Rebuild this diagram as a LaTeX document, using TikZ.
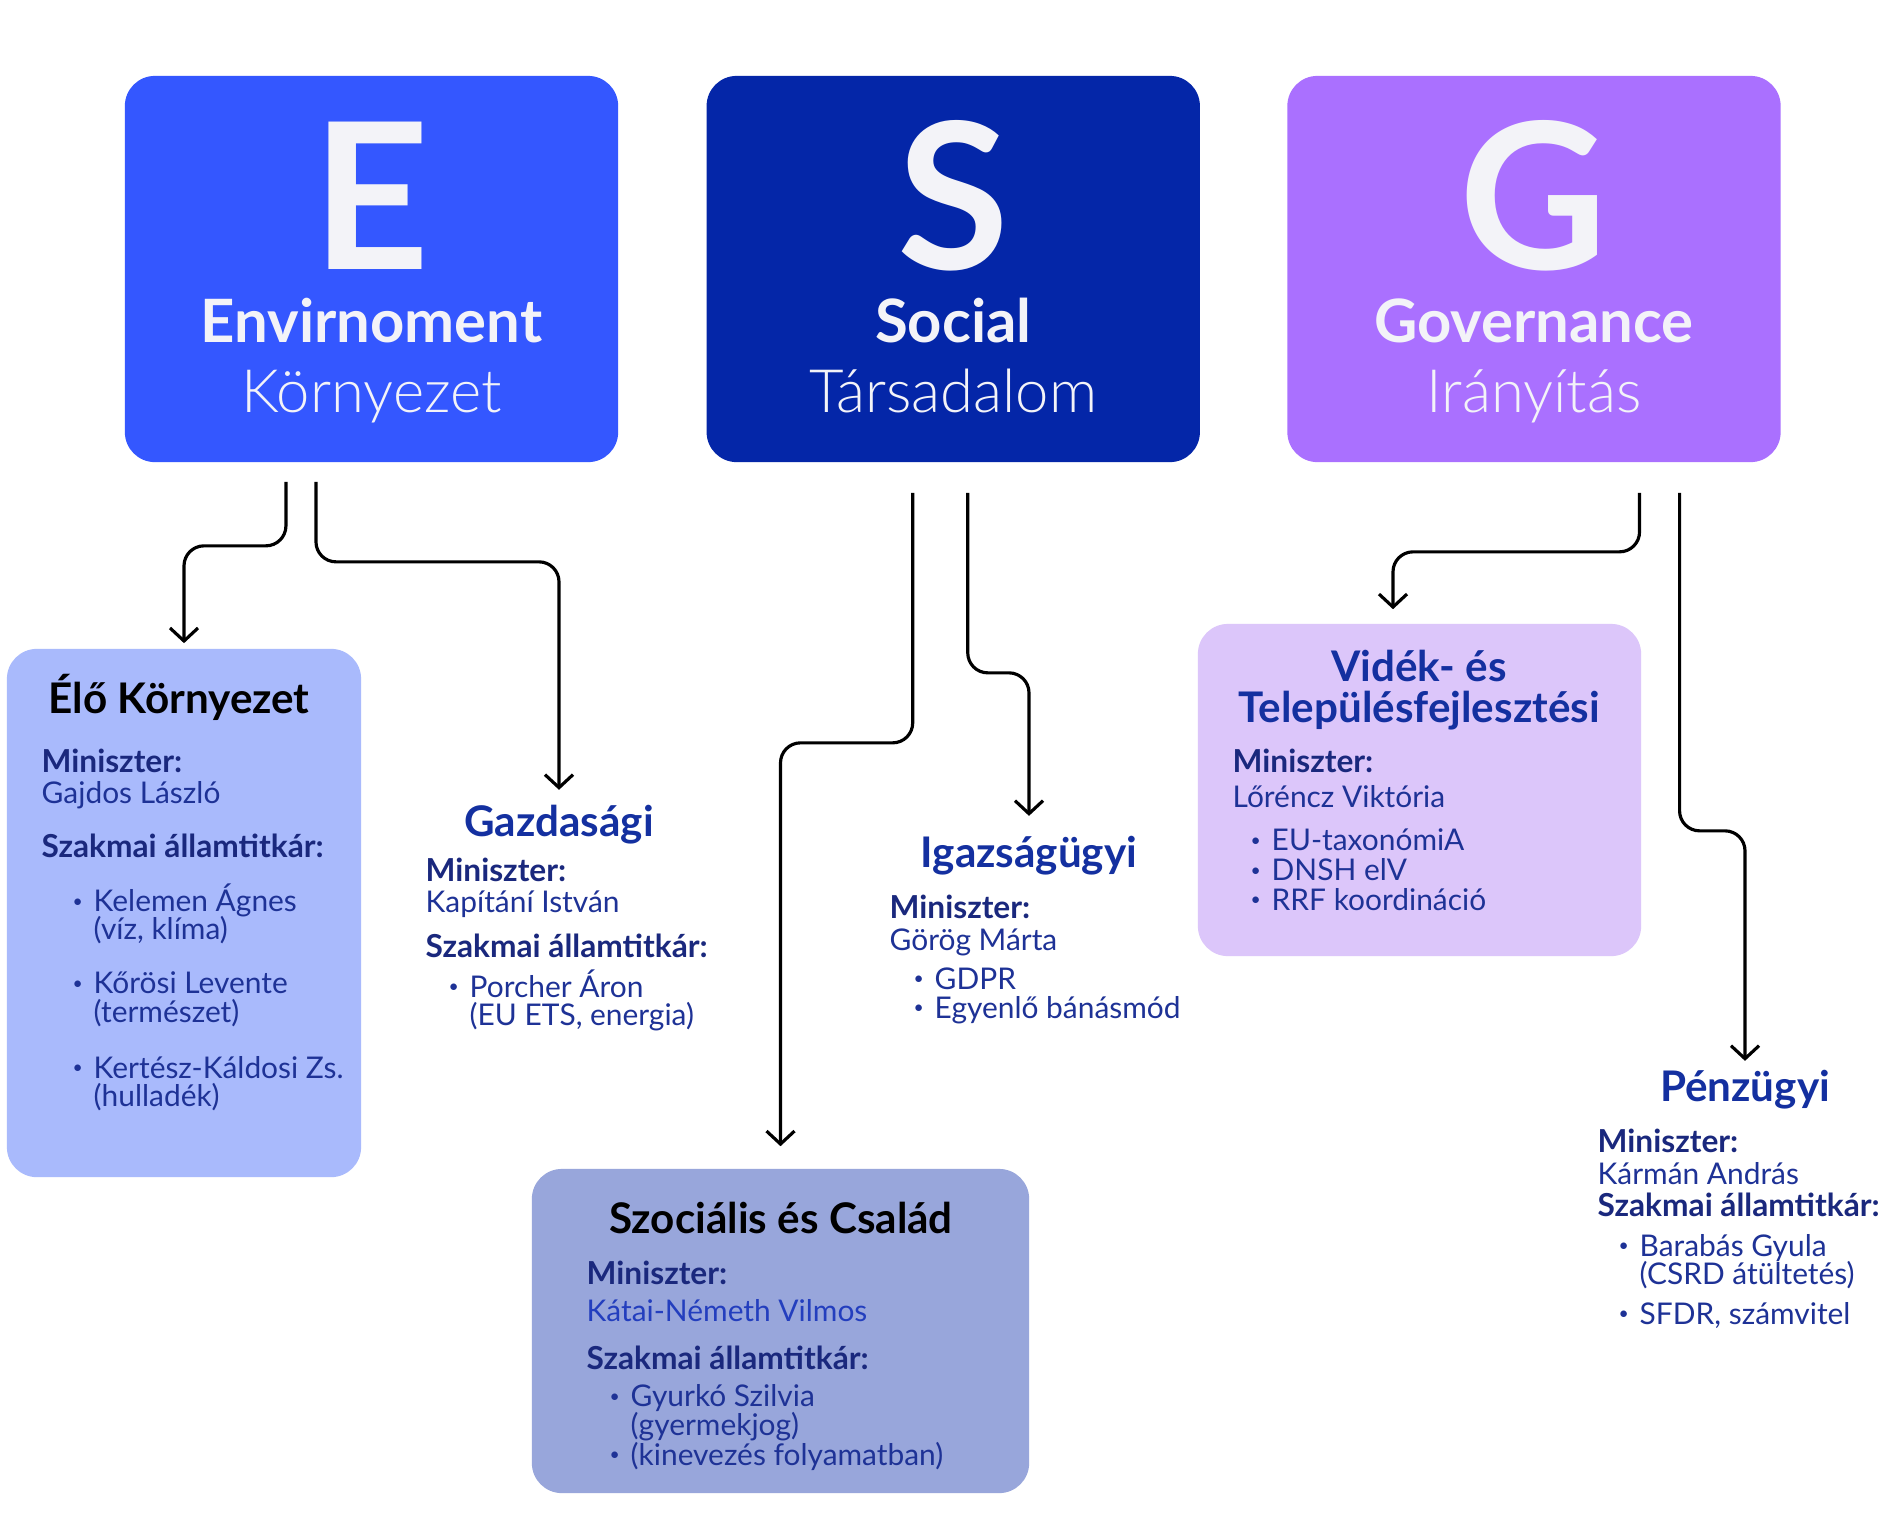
\documentclass[tikz,border=0pt]{standalone}
\usepackage{fontspec}
\setmainfont{Lato}
\newfontfamily\lightfont{Lato Light}
\usetikzlibrary{arrows.meta,positioning}
\definecolor{eblue}{RGB}{52,87,255}
\definecolor{snavy}{RGB}{4,38,168}
\definecolor{gviolet}{RGB}{170,112,255}
\definecolor{elofill}{RGB}{169,186,252}
\definecolor{socfill}{RGB}{152,166,219}
\definecolor{vidfill}{RGB}{220,198,250}
\definecolor{ink}{RGB}{26,40,125}
\definecolor{body}{RGB}{30,50,150}
\definecolor{bodylt}{RGB}{35,62,190}
\definecolor{head}{RGB}{20,48,160}
\definecolor{snow}{RGB}{243,243,248}
\newcommand\tightlines{\lineskiplimit=-20pt\relax}
\tikzset{
  pillar/.style={rounded corners=3mm,minimum width=4.93cm,minimum height=3.86cm,inner sep=0pt},
  big/.style={text=snow,font=\fontsize{58}{58}\selectfont\bfseries,inner sep=0pt,anchor=base,text depth=0pt},
  eng/.style={text=snow,font=\fontsize{17}{17}\selectfont\bfseries,inner sep=0pt,anchor=base},
  hun/.style={text=snow,font=\fontsize{17}{17}\selectfont\lightfont,inner sep=0pt,anchor=base},
  card/.style={rounded corners=3mm,inner sep=0pt},
  ttl/.style={font=\fontsize{12}{11.7}\selectfont\bfseries,inner sep=0pt,align=center},
  info/.style={font=\fontsize{8.5}{8}\selectfont\tightlines,text=body,inner sep=0pt,align=left,anchor=north west},
  arr/.style={-{Straight Barb[length=1.3mm,width=2.8mm]},line width=0.9pt,rounded corners=2mm}
}
\newcommand\minlbl[1]{{\fontsize{9}{8}\selectfont\bfseries\color{ink}#1}}
\newcommand\bulx[1][0.26cm]{\hspace*{#1}\makebox[0.18cm][l]{\hspace*{-0.03cm}\raisebox{1.3pt}{\fontsize{5}{5}\selectfont\textbullet}}}
\newcommand\contx[1][0.26cm]{\hspace*{#1}\hspace*{0.18cm}}

\begin{document}
\begin{tikzpicture}[x=0.01cm,y=-0.01cm]
  \fill[white] (0,0) rectangle (1900,1520);
  \useasboundingbox (0,0) rectangle (1900,1520);

  % the three pillars
  \node[pillar,fill=eblue] (E) at (371.5,269) {};
  \node[pillar,fill=snavy,right=0.87cm of E] (S) {};
  \node[pillar,fill=gviolet,right=0.86cm of S] (G) {};
  \node[big] (eL) at (E.center) {E};
  \node[eng] (eEn) at ([yshift=-0.73cm]E.center) {Envirnoment};
  \node[hun] (eHu) at ([yshift=-1.43cm]E.center) {Környezet};
  \node[big] (sL) at (S.center) {S};
  \node[eng] (sEn) at ([yshift=-0.73cm]S.center) {Social};
  \node[hun] (sHu) at ([yshift=-1.43cm]S.center) {Társadalom};
  \node[big] (gL) at (G.center) {G};
  \node[eng] (gEn) at ([yshift=-0.73cm]G.center) {Governance};
  \node[hun] (gHu) at ([yshift=-1.43cm]G.center) {Irányítás};

  % ministries
  \node[card,fill=elofill,minimum width=3.54cm,minimum height=5.28cm] (elo) at (184,913) {};
  \node[ttl] (eloT) at (179,697) {Élő Környezet};
  \node[info] (eloI) at (41,748) {\minlbl{Miniszter:}\\[0.85pt]
    Gajdos László\\[7.4pt]
    \minlbl{Szakmai államtitkár:}\\[7.4pt]
    \bulx[0.34cm]Kelemen Ágnes\\ \contx[0.34cm](víz, klíma)\\[7.4pt]
    \bulx[0.34cm]Kőrösi Levente\\ \contx[0.34cm](természet)\\[8pt]
    \bulx[0.34cm]Kertész-Káldosi Zs.\\ \contx[0.34cm](hulladék)};

  \node[ttl,text=head] (gaz) at (559,825) {Gazdasági};
  \node[info] (gazI) at (425,857) {\minlbl{Miniszter:}\\[0.85pt]
    Kapítání István\\[4.8pt]
    \minlbl{Szakmai államtitkár:}\\[3.4pt]
    \bulx Porcher Áron\\ \contx(EU ETS, energia)};

  \node[ttl,text=head] (igaz) at (1029,856) {Igazságügyi};
  \node[info] (igazI) at (889,894) {\minlbl{Miniszter:}\\[1.1pt]
    Görög Márta\\[3.1pt]
    \bulx[0.27cm]GDPR\\[0.3pt]
    \bulx[0.27cm]Egyenlő bánásmód};

  \node[card,fill=vidfill,minimum width=4.43cm,minimum height=3.32cm] (vid) at (1419.5,790) {};
  \node[ttl,text=head] (vidT) at (1419,690) {Vidék- és\\Településfejlesztési};
  \node[info] (vidI) at (1232,748) {\minlbl{Miniszter:}\\[2pt]
    Lőréncz Viktória\\[4.3pt]
    \bulx[0.21cm]EU-taxonómiA\\[0.6pt]
    \bulx[0.21cm]DNSH elV\\[0.3pt]
    \bulx[0.21cm]RRF koordináció};

  \node[ttl,text=head] (penz) at (1745,1090) {Pénzügyi};
  \node[info] (penzI) at (1597,1128) {\minlbl{Miniszter:}\\[1.1pt]
    Kármán András\\[1.1pt]
    \minlbl{Szakmai államtitkár:}\\[3.4pt]
    \bulx[0.24cm]Barabás Gyula\\ \contx[0.24cm](CSRD átültetés)\\[3.4pt]
    \bulx[0.24cm]SFDR, számvitel};

  \node[card,fill=socfill,minimum width=4.97cm,minimum height=3.24cm] (soc) at (780.5,1331) {};
  \node[ttl] (socT) at (781,1218) {Szociális és Család};
  \node[info] (socI) at (586,1260) {\minlbl{Miniszter:}\\[2.6pt]
    {\color{bodylt}Kátai-Németh Vilmos}\\[5.7pt]
    \minlbl{Szakmai államtitkár:}\\[2.6pt]
    \bulx Gyurkó Szilvia\\ \contx(gyermekjog)\\[0.6pt]
    \bulx(kinevezés folyamatban)};

  % connectors
  \draw[arr] ([xshift=-0.855cm,yshift=-0.19cm]E.south) -- ++(0,64) -| ([yshift=0.05cm]elo.north);
  \draw[arr] ([xshift=-0.555cm,yshift=-0.19cm]E.south) -- ++(0,80) -| ([yshift=0.15cm]gaz.north);
  \draw[arr] ([xshift=-0.405cm,yshift=-0.3cm]S.south) -- ++(0,250) -| ([yshift=0.22cm]soc.north);
  \draw[arr] ([xshift=0.145cm,yshift=-0.3cm]S.south) -- ++(0,180) -| ([yshift=0.2cm]igaz.north);
  \draw[arr] ([xshift=1.055cm,yshift=-0.3cm]G.south) -- ++(0,59) -| ([xshift=-0.265cm,yshift=0.14cm]vid.north);
  \draw[arr] ([xshift=1.455cm,yshift=-0.3cm]G.south) -- ++(0,338) -| ([yshift=0.09cm]penz.north);
\end{tikzpicture}
\end{document}
